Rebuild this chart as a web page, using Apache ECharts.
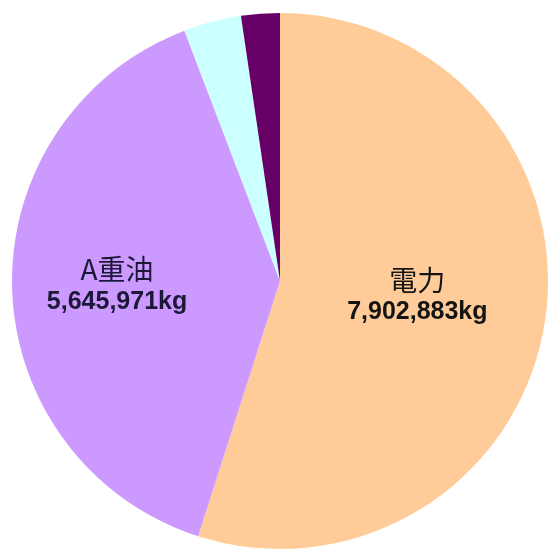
<!DOCTYPE html>
<html>
<head>
<meta charset="utf-8">
<script src="https://cdn.jsdelivr.net/npm/echarts@6/dist/echarts.min.js"></script>
<style>
  html, body { margin: 0; padding: 0; background: #ffffff; }
  #chart { width: 548px; height: 556px; }
</style>
</head>
<body>
<div id="chart"></div>
<script>
// CO2 emissions by energy source (kg)
const sources = ['電力', 'A重油', '灯油', 'LPG'];
const emissions = [7902883, 5645971, 500000, 335000];
const sliceColors = ['#FFCC99', '#CC99FF', '#CCFFFF', '#660066'];
const showLabel = [true, true, false, false];
const labelInk = ['#141414', '#1c1838', '#141414', '#141414'];
// nudges for the two labelled slices, keyed by name
const labelShift = { '電力': [2, -6], 'A重油': [-26, 1] };

const chart = echarts.init(document.getElementById('chart'), null, { renderer: 'canvas' });

const data = sources.map((name, i) => ({
  name: name,
  value: emissions[i],
  itemStyle: { color: sliceColors[i] },
  label: {
    show: showLabel[i],
    rich: {
      n: { fontFamily: 'Noto Sans CJK JP', fontSize: 28, color: labelInk[i], lineHeight: 32, align: 'center' },
      v: { fontFamily: '"Liberation Sans", Arial, sans-serif', fontWeight: 'bold', fontSize: 25, color: labelInk[i], lineHeight: 32, align: 'center' }
    }
  }
}));

chart.setOption({
  backgroundColor: '#ffffff',
  animation: false,
  series: [{
    type: 'pie',
    center: [280, 281],
    radius: 268,
    startAngle: 90,
    clockwise: true,
    avoidLabelOverlap: false,
    itemStyle: { borderWidth: 0 },
    emphasis: { disabled: true },
    label: {
      position: 'inside',
      formatter: (p) => '{n|' + p.name + '}\n{v|' + p.value.toLocaleString('en-US') + 'kg}'
    },
    labelLine: { show: false },
    labelLayout: (params) => {
      const s = labelShift[sources[params.dataIndex]];
      return s ? { dx: s[0], dy: s[1] } : {};
    },
    data: data
  }]
});
</script>
</body>
</html>
